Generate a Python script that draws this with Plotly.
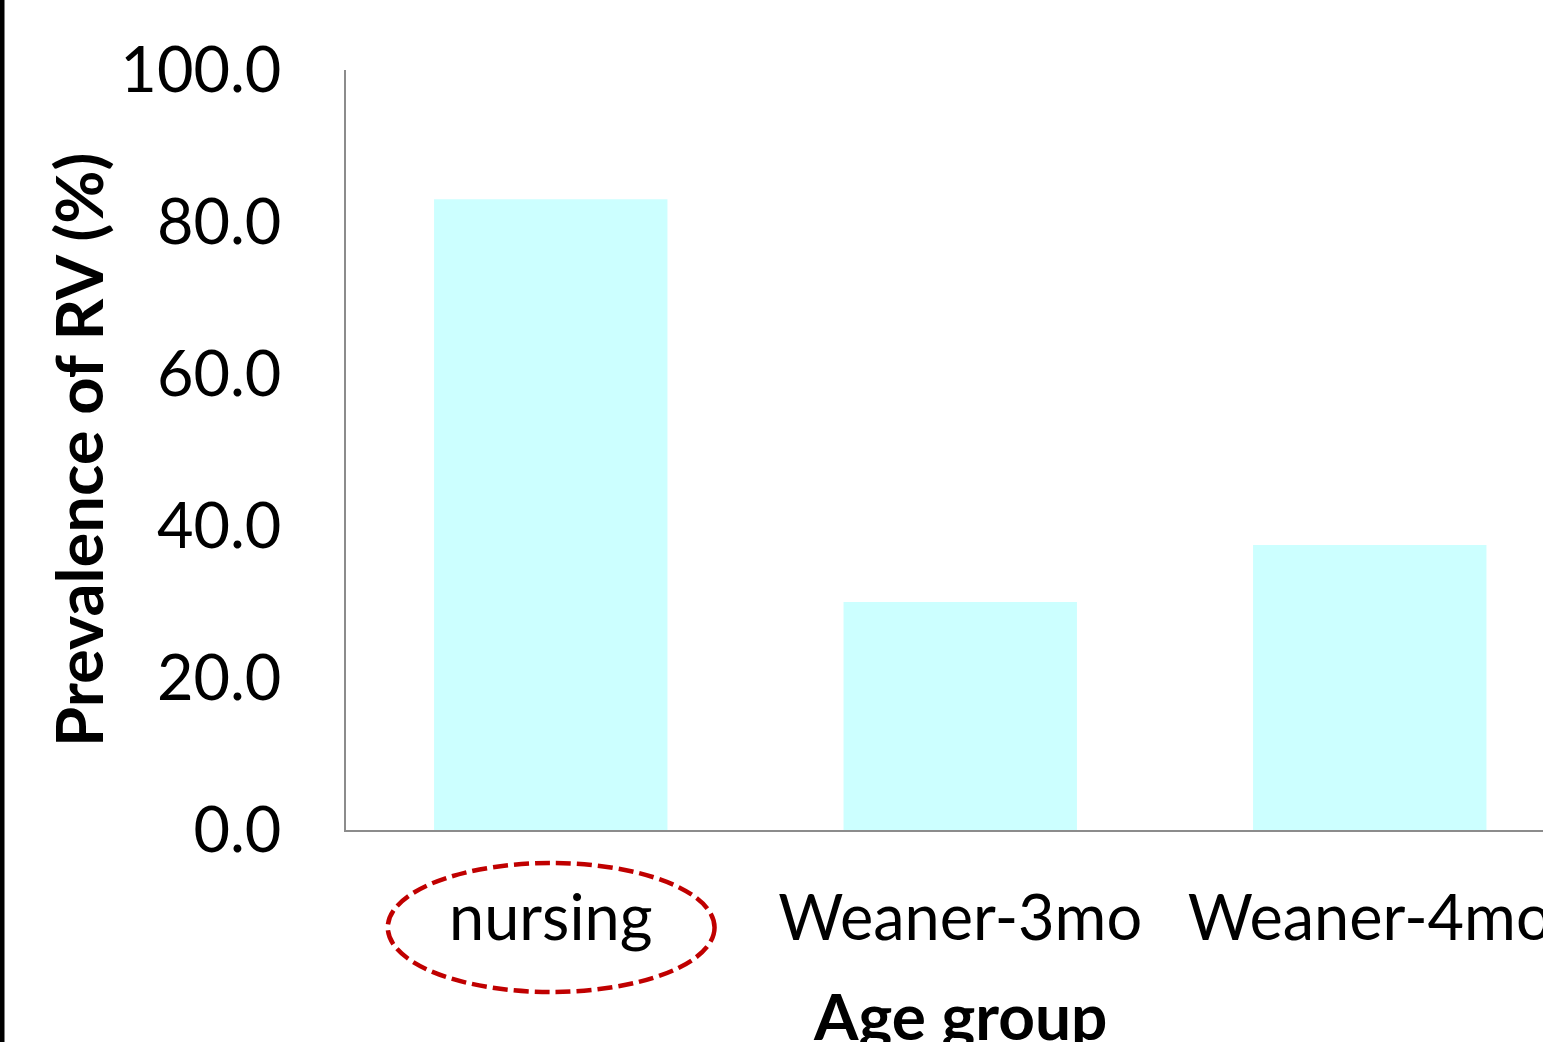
import plotly.graph_objects as go

# data
age_groups = ["nursing", "Weaner-3mo", "Weaner-4mo"]
prevalence = [83.0, 30.0, 37.5]
y_ticks = [0, 20, 40, 60, 80, 100]
y_tick_labels = ["0.0", "20.0", "40.0", "60.0", "80.0", "100.0"]

W, H = 1543, 1042
L, T, B = 346, 70, 212
plot_w = W - L
plot_h = H - T - B

fig = go.Figure()
fig.add_trace(go.Bar(
    x=age_groups,
    y=prevalence,
    marker=dict(color="#CCFFFF", line=dict(width=0)),
    width=0.57,
))

# x-axis cut at the right edge like the reference
cat_px = 409.5
x_max = -0.5 + plot_w / cat_px

fig.update_layout(
    width=W, height=H,
    margin=dict(l=L, r=0, t=T, b=B, autoexpand=False),
    paper_bgcolor="white",
    plot_bgcolor="white",
    showlegend=False,
    font=dict(family="Lato, Carlito, sans-serif", color="black"),
)
fig.update_xaxes(
    range=[-0.5, x_max],
    showline=True, linecolor="#8c8c8c", linewidth=2,
    showgrid=False, ticks="",
    tickfont=dict(size=63),
    ticklabelstandoff=32,
)
fig.update_yaxes(
    range=[0, 100],
    tickvals=y_ticks, ticktext=y_tick_labels,
    showline=True, linecolor="#8c8c8c", linewidth=2,
    showgrid=False, ticks="", zeroline=False,
    tickfont=dict(size=63),
    ticklabelstandoff=50,
)

# axis titles as annotations for exact placement
fig.add_annotation(
    text="<b>Age group</b>", xref="paper", yref="paper",
    x=(960 - L) / plot_w, y=(830 - 1015) / plot_h,
    xanchor="center", yanchor="middle", showarrow=False,
    font=dict(size=64),
)
fig.add_annotation(
    text="<b>Prevalence of RV (%)</b>", xref="paper", yref="paper",
    x=(78 - L) / plot_w, y=0.5, textangle=-90,
    xanchor="center", yanchor="middle", showarrow=False,
    font=dict(size=65),
)

# red dashed ellipse around "nursing"
fig.add_shape(
    type="circle", xref="x", yref="paper",
    x0=-0.398, x1=0.4,
    y0=(830 - 992) / plot_h, y1=(830 - 863) / plot_h,
    line=dict(color="#C00000", width=4.5, dash="15px,6px"),
    layer="above",
)

# black border line on the far left
fig.add_shape(
    type="line", xref="paper", yref="paper",
    x0=(2 - L) / plot_w, x1=(2 - L) / plot_w,
    y0=-(H - 830) / plot_h, y1=830 / plot_h,
    line=dict(color="black", width=5),
)

fig.write_html(
    "out.html",
    config={"displayModeBar": False},
    post_script="document.body.style.margin='0';",
)
